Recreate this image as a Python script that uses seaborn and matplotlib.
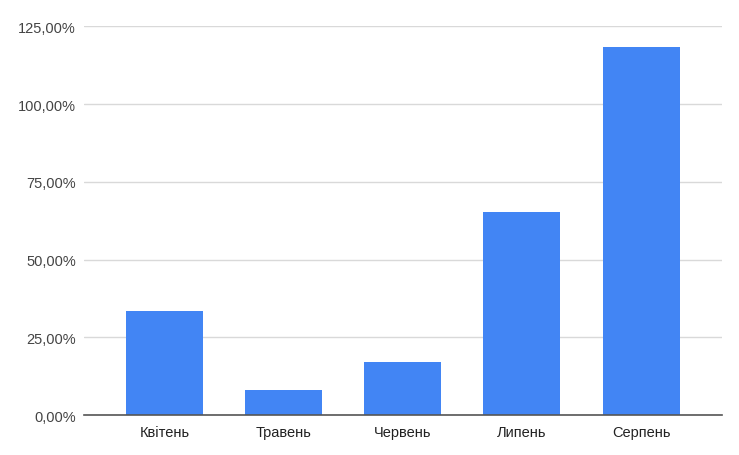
import matplotlib
matplotlib.use("Agg")
import matplotlib.pyplot as plt
import seaborn as sns
import pandas as pd
from matplotlib.ticker import FuncFormatter

months = ["Квітень", "Травень", "Червень", "Липень", "Серпень"]
values = [33.5, 8.1, 16.9, 65.4, 118.4]

df = pd.DataFrame({"month": months, "value": values})

sns.set_style("white")
plt.rcParams["font.family"] = ["Liberation Sans", "DejaVu Sans"]

fig = plt.figure(figsize=(7.39, 4.56), dpi=100)
ax = fig.add_axes([0.114, 0.0877, 0.8626, 0.8523])

sns.barplot(data=df, x="month", y="value", color="#4285F4", saturation=1,
            width=0.647, ax=ax, zorder=3, linewidth=0)

ax.set_ylim(0, 125)
ax.set_xlim(-0.678, 4.678)
ax.set_yticks([0, 25, 50, 75, 100, 125])
ax.yaxis.set_major_formatter(FuncFormatter(lambda v, p: f"{v:.2f}".replace(".", ",") + "%"))
ax.grid(axis="y", color="#d9d9d9", linewidth=1, zorder=0)
ax.set_xlabel("")
ax.set_ylabel("")

for s in ["top", "right", "left"]:
    ax.spines[s].set_visible(False)
ax.spines["bottom"].set_color("#555555")
ax.spines["bottom"].set_linewidth(1.2)
ax.spines["bottom"].set_zorder(4)

ax.tick_params(axis="y", length=0, pad=6, labelsize=10.5, labelcolor="#444444")
ax.tick_params(axis="x", length=0, pad=7, labelsize=10.5, labelcolor="#222222")

fig.savefig("out.png", dpi=100)
